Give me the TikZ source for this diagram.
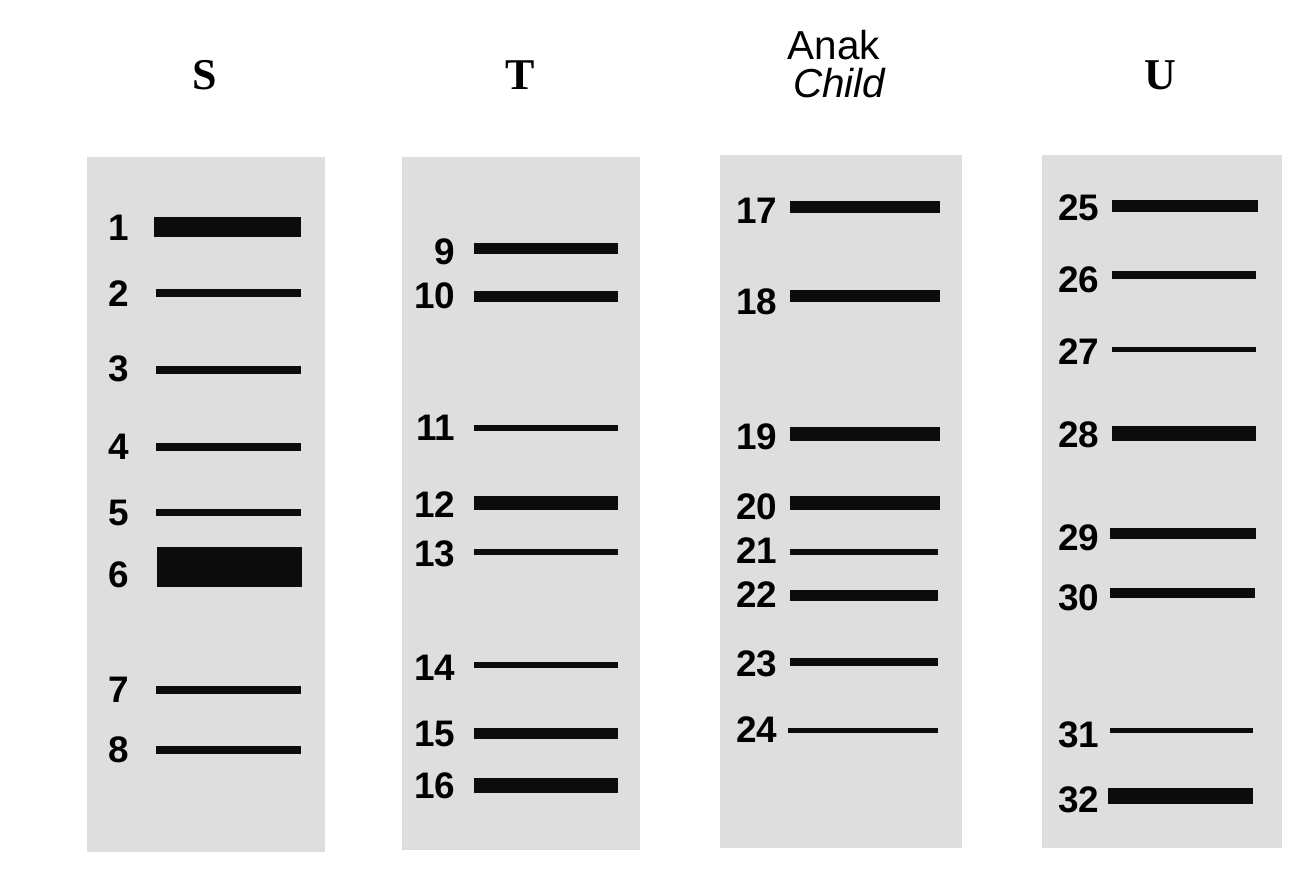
\documentclass[tikz,border=0pt]{standalone}
\usepackage{fontspec}
\setmainfont{Liberation Serif}
\setsansfont{Liberation Sans}
\usepackage{tikz}
\usetikzlibrary{positioning}
\definecolor{lanegray}{RGB}{222,222,223}
\definecolor{bandblack}{RGB}{12,12,12}

\begin{document}
\begin{tikzpicture}[
    x=0.01cm, y=-0.01cm,
    lane/.style={fill=lanegray},
    band/.style={draw=bandblack, line width=#1*0.01cm, line cap=butt},
    num/.style={anchor=east, inner sep=0pt, font=\sffamily\bfseries\fontsize{10.5}{12}\selectfont},
    ttl/.style={font=\rmfamily\bfseries\fontsize{12.5}{14}\selectfont, inner sep=0pt},
    sttl/.style={font=\sffamily\fontsize{11.5}{13}\selectfont, inner sep=0pt}
]
\useasboundingbox (0,0) rectangle (1316,876);

% Column titles
\node[ttl] (tS) at (205,75) {S};
\node[ttl] (tT) at (520,75) {T};
\node[sttl] (tAnak) at (834,45) {Anak};
\node[sttl, below=2pt of tAnak, xshift=1.5pt] (tChild) {\itshape Child};
\node[ttl] (tU) at (1160,75) {U};

% Lane S
\fill[lane] (87,157) rectangle (325,852);
\draw[band=20] (154,227) -- (301,227);
\draw[band=8] (156,293) -- (301,293);
\draw[band=8] (156,370) -- (301,370);
\draw[band=8] (156,447) -- (301,447);
\draw[band=7] (156,512) -- (301,512);
\draw[band=40] (157,567) -- (302,567);
\draw[band=8] (156,690) -- (301,690);
\draw[band=8] (156,750) -- (301,750);
\node[num] (s1) at (130,228) {1};
\node[num] (s2) at (130,294) {2};
\node[num] (s3) at (130,369) {3};
\node[num] (s4) at (130,447) {4};
\node[num] (s5) at (130,513) {5};
\node[num] (s6) at (130,575) {6};
\node[num] (s7) at (130,690) {7};
\node[num] (s8) at (130,750) {8};

% Lane T
\fill[lane] (402,157) rectangle (640,850);
\draw[band=11] (474,248) -- (618,248);
\draw[band=11] (474,296) -- (618,296);
\draw[band=6] (474,428) -- (618,428);
\draw[band=14] (474,503) -- (618,503);
\draw[band=6] (474,552) -- (618,552);
\draw[band=6] (474,665) -- (618,665);
\draw[band=11] (474,733) -- (618,733);
\draw[band=15] (474,785) -- (618,785);
\node[num] (t9) at (456,252) {9};
\node[num] (t10) at (456,296) {10};
\node[num] (t11) at (456,428) {11};
\node[num] (t12) at (456,505) {12};
\node[num] (t13) at (456,554) {13};
\node[num] (t14) at (456,668) {14};
\node[num] (t15) at (456,734) {15};
\node[num] (t16) at (456,786) {16};

% Lane Anak / Child
\fill[lane] (720,155) rectangle (962,848);
\draw[band=12] (790,207) -- (940,207);
\draw[band=12] (790,296) -- (940,296);
\draw[band=14] (790,434) -- (940,434);
\draw[band=14] (790,503) -- (940,503);
\draw[band=6] (790,552) -- (938,552);
\draw[band=11] (790,595) -- (938,595);
\draw[band=8] (790,662) -- (938,662);
\draw[band=5] (788,730) -- (938,730);
\node[num] (c17) at (778,211) {17};
\node[num] (c18) at (778,302) {18};
\node[num] (c19) at (778,437) {19};
\node[num] (c20) at (778,507) {20};
\node[num] (c21) at (778,551) {21};
\node[num] (c22) at (778,595) {22};
\node[num] (c23) at (778,664) {23};
\node[num] (c24) at (778,730) {24};

% Lane U
\fill[lane] (1042,155) rectangle (1282,848);
\draw[band=12] (1112,206) -- (1258,206);
\draw[band=8] (1112,275) -- (1256,275);
\draw[band=5] (1112,349) -- (1256,349);
\draw[band=15] (1112,433) -- (1256,433);
\draw[band=11] (1110,533) -- (1256,533);
\draw[band=10] (1110,593) -- (1255,593);
\draw[band=5] (1110,730) -- (1253,730);
\draw[band=16] (1108,796) -- (1253,796);
\node[num] (u25) at (1100,208) {25};
\node[num] (u26) at (1100,280) {26};
\node[num] (u27) at (1100,352) {27};
\node[num] (u28) at (1100,435) {28};
\node[num] (u29) at (1100,538) {29};
\node[num] (u30) at (1100,598) {30};
\node[num] (u31) at (1100,735) {31};
\node[num] (u32) at (1100,800) {32};
\end{tikzpicture}
\end{document}
